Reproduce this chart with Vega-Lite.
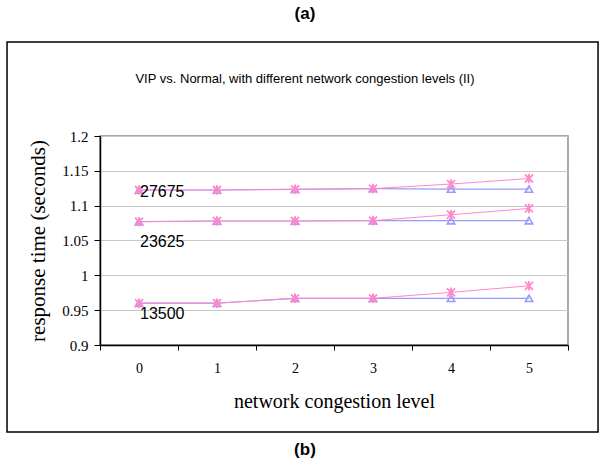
{
  "$schema": "https://vega.github.io/schema/vega-lite/v6.json",
  "width": 468,
  "height": 209,
  "autosize": {"type": "none"},
  "padding": {"left": 100, "top": 136, "right": 37, "bottom": 121},
  "background": "white",
  "config": {
    "view": {"stroke": "#8c8c8c", "strokeWidth": 1.5},
    "axis": {
      "labelFont": "Liberation Serif",
      "labelColor": "black",
      "labelFontSize": 15,
      "titleFont": "Liberation Serif",
      "titleFontSize": 20,
      "titleFontWeight": "normal",
      "titleColor": "black",
      "domainColor": "black",
      "domainWidth": 1.5,
      "tickColor": "black",
      "tickWidth": 1
    }
  },
  "datasets": {
    "points": [
      {"series": "VIP", "group": "27675", "level": 0, "time": 1.1225},
      {"series": "VIP", "group": "27675", "level": 1, "time": 1.1225},
      {"series": "VIP", "group": "27675", "level": 2, "time": 1.1235},
      {"series": "VIP", "group": "27675", "level": 3, "time": 1.1245},
      {"series": "VIP", "group": "27675", "level": 4, "time": 1.1238},
      {"series": "VIP", "group": "27675", "level": 5, "time": 1.1238},
      {"series": "VIP", "group": "23625", "level": 0, "time": 1.077},
      {"series": "VIP", "group": "23625", "level": 1, "time": 1.078},
      {"series": "VIP", "group": "23625", "level": 2, "time": 1.078},
      {"series": "VIP", "group": "23625", "level": 3, "time": 1.0785},
      {"series": "VIP", "group": "23625", "level": 4, "time": 1.0785},
      {"series": "VIP", "group": "23625", "level": 5, "time": 1.0785},
      {"series": "VIP", "group": "13500", "level": 0, "time": 0.96},
      {"series": "VIP", "group": "13500", "level": 1, "time": 0.96},
      {"series": "VIP", "group": "13500", "level": 2, "time": 0.967},
      {"series": "VIP", "group": "13500", "level": 3, "time": 0.967},
      {"series": "VIP", "group": "13500", "level": 4, "time": 0.967},
      {"series": "VIP", "group": "13500", "level": 5, "time": 0.967},
      {"series": "Normal", "group": "27675", "level": 0, "time": 1.1225},
      {"series": "Normal", "group": "27675", "level": 1, "time": 1.1225},
      {"series": "Normal", "group": "27675", "level": 2, "time": 1.1235},
      {"series": "Normal", "group": "27675", "level": 3, "time": 1.1245},
      {"series": "Normal", "group": "27675", "level": 4, "time": 1.131},
      {"series": "Normal", "group": "27675", "level": 5, "time": 1.139},
      {"series": "Normal", "group": "23625", "level": 0, "time": 1.077},
      {"series": "Normal", "group": "23625", "level": 1, "time": 1.078},
      {"series": "Normal", "group": "23625", "level": 2, "time": 1.078},
      {"series": "Normal", "group": "23625", "level": 3, "time": 1.0785},
      {"series": "Normal", "group": "23625", "level": 4, "time": 1.087},
      {"series": "Normal", "group": "23625", "level": 5, "time": 1.096},
      {"series": "Normal", "group": "13500", "level": 0, "time": 0.96},
      {"series": "Normal", "group": "13500", "level": 1, "time": 0.96},
      {"series": "Normal", "group": "13500", "level": 2, "time": 0.967},
      {"series": "Normal", "group": "13500", "level": 3, "time": 0.967},
      {"series": "Normal", "group": "13500", "level": 4, "time": 0.9755},
      {"series": "Normal", "group": "13500", "level": 5, "time": 0.985}
    ],
    "labels": [
      {"group": "27675", "level": 0, "time": 1.119},
      {"group": "23625", "level": 0, "time": 1.048},
      {"group": "13500", "level": 0, "time": 0.9446}
    ]
  },
  "layer": [
    {
      "data": {"name": "points"},
      "transform": [{"filter": "datum.series === 'VIP'"}],
      "mark": {"type": "line", "color": "#9999ff", "strokeWidth": 1.2},
      "encoding": {
        "x": {
          "field": "level",
          "type": "quantitative",
          "scale": {"domain": [-0.5, 5.5], "nice": false, "zero": false},
          "axis": {
            "title": "network congestion level",
            "values": [-0.5, 0.5, 1.5, 2.5, 3.5, 4.5, 5.5],
            "tickCount": 20,
            "labelExpr": "datum.value < 5 ? format(datum.value + 0.5, 'd') : ''",
            "labelOffset": 39,
            "labelFlush": false,
            "labelOverlap": false,
            "labelBound": false,
            "labelFontSize": 14,
            "grid": false,
            "tickSize": 5,
            "labelPadding": 11,
            "titlePadding": 16
          }
        },
        "y": {
          "field": "time",
          "type": "quantitative",
          "scale": {"domain": [0.9, 1.2], "nice": false, "zero": false},
          "axis": {
            "title": "response time (seconds)",
            "titleFontSize": 21,
            "values": [0.9, 0.95, 1.0, 1.05, 1.1, 1.15, 1.2],
            "tickCount": 20,
            "format": ".2~f",
            "labelOverlap": false,
            "labelFlush": false,
            "grid": true,
            "gridColor": "#c8c8c8",
            "gridWidth": 1,
            "tickSize": 6,
            "labelPadding": 6,
            "titlePadding": 13
          }
        },
        "detail": {"field": "group"}
      }
    },
    {
      "data": {"name": "points"},
      "transform": [{"filter": "datum.series === 'VIP'"}],
      "mark": {"type": "point", "shape": "triangle-up", "filled": false, "color": "#9999ff", "strokeWidth": 1.6, "size": 55, "opacity": 1},
      "encoding": {
        "x": {"field": "level", "type": "quantitative"},
        "y": {"field": "time", "type": "quantitative"}
      }
    },
    {
      "data": {"name": "points"},
      "transform": [{"filter": "datum.series === 'Normal'"}],
      "mark": {"type": "line", "color": "#ff88c8", "strokeWidth": 1},
      "encoding": {
        "x": {"field": "level", "type": "quantitative"},
        "y": {"field": "time", "type": "quantitative"},
        "detail": {"field": "group"}
      }
    },
    {
      "data": {"name": "points"},
      "transform": [{"filter": "datum.series === 'Normal'"}],
      "mark": {"type": "point", "shape": "M-1,-1L1,1M1,-1L-1,1M0,-1.2L0,1.2", "filled": false, "color": "#ff88c8", "strokeWidth": 1.8, "size": 64, "opacity": 1},
      "encoding": {
        "x": {"field": "level", "type": "quantitative"},
        "y": {"field": "time", "type": "quantitative"}
      }
    },
    {
      "data": {"name": "labels"},
      "mark": {"type": "text", "align": "left", "baseline": "middle", "font": "Liberation Sans", "fontSize": 16, "color": "black", "dx": 1},
      "encoding": {
        "x": {"field": "level", "type": "quantitative"},
        "y": {"field": "time", "type": "quantitative"},
        "text": {"field": "group"}
      }
    },
    {
      "data": {"values": [{"frame": "chart area"}]},
      "mark": {"type": "rect", "filled": false, "stroke": "black", "strokeWidth": 1.5, "fill": null},
      "encoding": {
        "x": {"datum": -1.692},
        "x2": {"datum": 5.885},
        "y": {"datum": 1.3349},
        "y2": {"datum": 0.7751}
      }
    },
    {
      "data": {"values": [{"t": "VIP vs. Normal, with different network congestion levels (II)"}]},
      "mark": {"type": "text", "align": "center", "baseline": "middle", "font": "Liberation Sans", "fontSize": 13, "color": "black"},
      "encoding": {
        "x": {"datum": 2.128},
        "y": {"datum": 1.2818},
        "text": {"field": "t"}
      }
    },
    {
      "data": {"values": [{"t": "(a)"}]},
      "mark": {"type": "text", "align": "center", "baseline": "middle", "font": "Liberation Sans", "fontSize": 17, "fontWeight": "bold", "color": "black"},
      "encoding": {
        "x": {"datum": 2.128},
        "y": {"datum": 1.375},
        "text": {"field": "t"}
      }
    },
    {
      "data": {"values": [{"t": "(b)"}]},
      "mark": {"type": "text", "align": "center", "baseline": "middle", "font": "Liberation Sans", "fontSize": 17, "fontWeight": "bold", "color": "black"},
      "encoding": {
        "x": {"datum": 2.128},
        "y": {"datum": 0.7493},
        "text": {"field": "t"}
      }
    }
  ]
}
